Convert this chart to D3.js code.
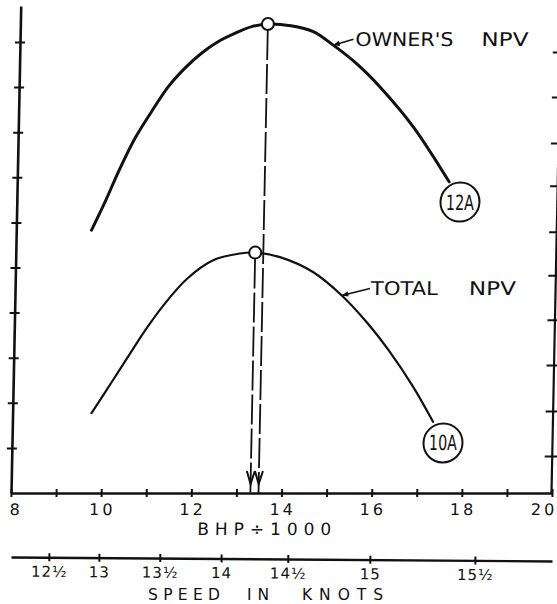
<!DOCTYPE html>
<html>
<head>
<meta charset="utf-8">
<script src="https://cdn.jsdelivr.net/npm/d3@7"></script>
<style>
  body { margin: 0; background: #fff; }
  svg { display: block; }
  text { font-family: "DejaVu Sans", sans-serif; fill: #111; }
</style>
</head>
<body>
<svg id="chart"></svg>
<script>
// BHP / 1000 along the bottom, NPV (no units printed) up the side
const bhpTicks = [8, 9, 10, 11, 12, 13, 14, 15, 16, 17, 18, 19, 20];
const bhpLabels = [8, 10, 12, 14, 16, 18, 20];
const npvTicks = [1, 2, 3, 4, 5, 6, 7, 8, 9, 10];
// the right-hand frame has its own ticks, a little lower than the left ones
const rightTicks = [0.82, 1.82, 2.84, 3.84, 4.83, 5.79, 6.81, 7.76, 8.78, 9.78];

// curve 12A - owner's NPV
const ownerBhp = [9.67, 9.96, 10.24, 10.59, 10.95, 11.31, 11.67, 12.03, 12.40, 12.76, 13.13, 13.49, 14.00, 14.50, 14.95, 15.50, 16.00, 16.76, 17.58];
const ownerNpv = [5.83, 6.46, 7.12, 7.86, 8.46, 9.01, 9.42, 9.75, 10.01, 10.19, 10.34, 10.40, 10.36, 10.23, 9.93, 9.50, 9.01, 8.12, 6.90];

// curve 10A - total NPV
const totalBhp = [9.75, 10.21, 10.64, 10.94, 11.29, 11.81, 12.38, 12.97, 13.31, 13.86, 14.60, 15.25, 15.82, 16.34, 16.87, 17.33];
const totalNpv = [1.77, 2.50, 3.19, 3.66, 4.15, 4.75, 5.16, 5.31, 5.33, 5.23, 4.90, 4.38, 3.78, 3.13, 2.36, 1.58];

// the optimum of each curve, dropped to the BHP axis
const optimumBhp = [13.49, 13.31];
const optimumNpv = [10.40, 5.33];

// circled case tags at the end of each curve
const caseTags = ["12A", "10A"];
const caseTagBhp = [17.83, 17.56];
const caseTagNpv = [6.45, 1.11];

// speed scale under the BHP scale: each knot mark read at its BHP position
const speedLabels = ["12½", "13", "13½", "14", "14½", "15", "15½"];
const speedAtBhp = [8.84, 9.95, 11.30, 12.66, 14.14, 15.96, 18.29];

const width = 557;
const height = 604;
const ink = "#111";
const skew = 0.02; // the scan leans: tops of the verticals sit right of their feet

const x = d3.scaleLinear().domain([8, 20]).range([11, 552]);
const y = d3.scaleLinear().domain([0, 10]).range([493, 42]);
const yFrame = y.copy().domain([0, 10.8]).range([y(0), y(10.8)]);

const svg = d3.select("#chart")
    .attr("width", width)
    .attr("height", height)
    .attr("viewBox", [0, 0, width, height]);

const plot = svg.append("g")
    .attr("transform", `translate(0,${y(0)}) skewX(${-Math.atan(skew) * 180 / Math.PI}) translate(0,${-y(0)})`);

// left axis, ticks crossing the line, no labels
const left = plot.append("g")
    .attr("transform", `translate(${x(8)},0)`)
    .call(d3.axisLeft(yFrame).tickValues(npvTicks).tickSize(5).tickSizeOuter(0).tickFormat(""));
left.selectAll(".tick line").attr("x1", 5).attr("stroke", ink).attr("stroke-width", 2);
left.select(".domain").attr("stroke", ink).attr("stroke-width", 2.6);

// right frame, it runs off the edge of the scan near the top
const right = plot.append("g")
    .attr("transform", `translate(${x(20) - 1},0)`)
    .call(d3.axisRight(yFrame).tickValues(rightTicks).tickSize(7).tickSizeOuter(0).tickFormat(""));
right.selectAll(".tick line").attr("x1", -7).attr("stroke", ink).attr("stroke-width", 2);
right.select(".domain").attr("stroke", ink).attr("stroke-width", 2.2);

// bottom BHP axis
const bottom = plot.append("g")
    .attr("transform", `translate(0,${y(0)})`)
    .call(d3.axisBottom(x).tickValues(bhpTicks).tickSize(4).tickSizeOuter(0).tickPadding(7)
        .tickFormat(d => bhpLabels.includes(d) ? d : ""))
    .attr("font-family", "DejaVu Sans, sans-serif")
    .attr("font-size", 16);
bottom.selectAll(".tick text")
    .attr("fill", ink)
    .attr("letter-spacing", 3)
    .attr("dx", d => d === 8 ? 5 : d === 20 ? -8 : 1);
bottom.selectAll(".tick line").attr("y1", -4).attr("stroke", ink).attr("stroke-width", 2);
bottom.select(".domain").attr("stroke", ink).attr("stroke-width", 2.6);

plot.append("text")
    .attr("x", 198)
    .attr("y", 535)
    .attr("font-size", 17)
    .attr("textLength", 134)
    .attr("lengthAdjust", "spacing")
    .text("BHP÷1000");

// curves
const line = d3.line()
    .x(d => x(d[0]))
    .y(d => y(d[1]))
    .curve(d3.curveCatmullRom.alpha(0.5));

plot.append("path")
    .datum(d3.zip(ownerBhp, ownerNpv))
    .attr("fill", "none")
    .attr("stroke", ink)
    .attr("stroke-width", 3)
    .attr("stroke-linecap", "round")
    .attr("d", line);

plot.append("path")
    .datum(d3.zip(totalBhp, totalNpv))
    .attr("fill", "none")
    .attr("stroke", ink)
    .attr("stroke-width", 2.2)
    .attr("stroke-linecap", "round")
    .attr("d", line);

// optimum drop lines with arrows at the axis
const optima = d3.zip(optimumBhp, optimumNpv);
const drops = plot.append("g").attr("stroke", ink).attr("fill", "none");
drops.selectAll("line")
    .data(optima)
    .join("line")
        .attr("x1", d => x(d[0]))
        .attr("x2", d => x(d[0]))
        .attr("y1", d => y(d[1]) + 6)
        .attr("y2", y(0))
        .attr("stroke-width", 1.8)
        .attr("stroke-dasharray", "30,4");
drops.selectAll("path")
    .data(optima)
    .join("path")
        .attr("stroke-width", 2)
        .attr("d", d => {
            const cx = x(d[0]), b = y(0) - 9;
            return `M${cx - 4},${b - 13}L${cx},${b}L${cx + 4},${b - 13}`;
        });
plot.append("g")
    .selectAll("circle")
    .data(optima)
    .join("circle")
        .attr("cx", d => x(d[0]))
        .attr("cy", d => y(d[1]))
        .attr("r", 6)
        .attr("fill", "#fff")
        .attr("stroke", ink)
        .attr("stroke-width", 2);

// circled case tags
const tags = plot.append("g")
    .selectAll("g")
    .data(caseTags)
    .join("g")
        .attr("transform", (d, i) => `translate(${x(caseTagBhp[i])},${y(caseTagNpv[i])})`);
tags.append("circle")
    .attr("r", 19.5)
    .attr("fill", "#fff")
    .attr("stroke", ink)
    .attr("stroke-width", 2);
tags.append("text")
    .attr("text-anchor", "middle")
    .attr("y", 7.5)
    .attr("font-size", 21)
    .attr("textLength", 28)
    .attr("lengthAdjust", "spacingAndGlyphs")
    .text(d => d);

// curve labels with their little arrows
function curveLabel(px, py, dx, dy, words) {
    const tx = x(px), ty = y(py);
    const sx = tx + dx, sy = ty + dy;
    const a = Math.atan2(ty - sy, tx - sx);
    plot.append("line")
        .attr("x1", sx).attr("y1", sy)
        .attr("x2", tx).attr("y2", ty)
        .attr("stroke", ink).attr("stroke-width", 1.6);
    plot.append("path")
        .attr("fill", ink)
        .attr("d", `M${tx},${ty}L${tx - 7 * Math.cos(a - 0.4)},${ty - 7 * Math.sin(a - 0.4)}L${tx - 7 * Math.cos(a + 0.4)},${ty - 7 * Math.sin(a + 0.4)}Z`);
    const t = plot.append("text").attr("font-size", 19);
    words.forEach(w => {
        t.append("tspan")
            .attr("x", sx + w.at)
            .attr("y", sy + 7)
            .attr("textLength", w.len)
            .attr("lengthAdjust", "spacingAndGlyphs")
            .text(w.text);
    });
}
curveLabel(ownerBhp[14], ownerNpv[14], 20, -6,
    [{text: "OWNER'S", at: 2, len: 98}, {text: "NPV", at: 128, len: 47}]);
curveLabel(totalBhp[11], totalNpv[11], 28, -7,
    [{text: "TOTAL", at: 1, len: 67}, {text: "NPV", at: 99, len: 47}]);

// speed scale, a separate line under the chart
const speed = svg.append("g")
    .attr("transform", `translate(0,557) rotate(0.42,${x(8)},0)`)
    .call(d3.axisBottom(x).tickValues(speedAtBhp).tickSize(4).tickSizeOuter(0).tickPadding(5)
        .tickFormat((d, i) => speedLabels[i]))
    .attr("font-family", "DejaVu Sans, sans-serif")
    .attr("font-size", 15);
speed.selectAll(".tick line").attr("y1", -4).attr("stroke", ink).attr("stroke-width", 2);
speed.select(".domain").attr("stroke", ink).attr("stroke-width", 2.4);
speed.selectAll(".tick text").attr("fill", ink).attr("letter-spacing", 1);

const speedTitle = svg.append("text").attr("font-size", 15.5).attr("y", 600);
[{text: "SPEED", at: 148, len: 72}, {text: "IN", at: 247, len: 22}, {text: "KNOTS", at: 302, len: 81}]
    .forEach(w => {
        speedTitle.append("tspan")
            .attr("x", w.at)
            .attr("textLength", w.len)
            .attr("lengthAdjust", "spacing")
            .text(w.text);
    });
</script>
</body>
</html>
